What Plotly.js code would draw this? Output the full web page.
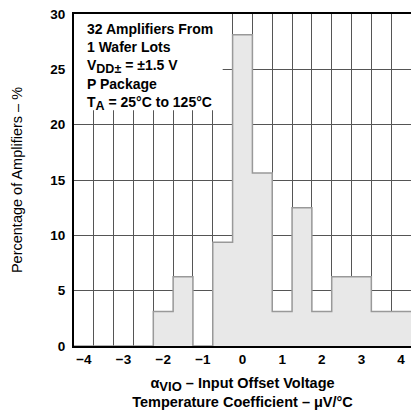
<!DOCTYPE html>
<html><head><meta charset="utf-8">
<script src="https://cdn.plot.ly/plotly-3.0.1.min.js"></script>
<style>html,body{margin:0;padding:0;background:#fff}#chart{width:411px;height:412px}</style>
</head><body><div id="chart"></div>
<script>
// Bin centers (µV/°C) and percentage of amplifiers (32 units, 3.125% each)
const binCenters = [-4, -3.5, -3, -2.5, -2, -1.5, -1, -0.5, 0, 0.5, 1, 1.5, 2, 2.5, 3, 3.5, 4];
const percentages = [0, 0, 0, 0, 3.125, 6.25, 0, 9.375, 28.125, 15.625, 3.125, 12.5, 3.125, 6.25, 6.25, 3.125, 3.125];
const binWidth = 0.5;
const xTickVals = [-4, -3, -2, -1, 0, 1, 2, 3, 4];
const xTickText = ['\u22124', '\u22123', '\u22122', '\u22121', '0', '1', '2', '3', '4'];
const yTickVals = [0, 5, 10, 15, 20, 25, 30];
const noteLines = ['32 Amplifiers From', '1 Wafer Lots',
  'V<sub><span style="font-size:12.5px">DD\u00b1</span></sub> = \u00b11.5 V', 'P Package',
  'T<sub><span style="font-size:12.5px">A</span></sub> = 25\u00b0C to 125\u00b0C'];

// step outline built from bins
const sx = binCenters.map(c => c - binWidth / 2);
const sy = percentages.slice();
sx.push(binCenters[binCenters.length - 1] + binWidth / 2);
sy.push(percentages[percentages.length - 1]);

const font = {family: 'Liberation Sans, Arial, sans-serif', color: '#000'};

const trace = {
  type: 'scatter', mode: 'lines', x: sx, y: sy,
  line: {shape: 'hv', color: '#999', width: 1.5},
  fill: 'tozeroy', fillcolor: '#e8e8e8', hoverinfo: 'skip'
};

const layout = {
  width: 411, height: 412,
  margin: {l: 74, r: 0, t: 14, b: 66},
  paper_bgcolor: '#fff', plot_bgcolor: '#fff',
  showlegend: false,
  font: font,
  xaxis: {
    range: [-4.25, 4.25], tickvals: xTickVals, ticktext: xTickText,
    showgrid: false, zeroline: false, ticks: '',
    showline: true, linecolor: '#000', linewidth: 2, mirror: true,
    tickfont: {family: font.family, size: 13.5, weight: 'bold', color: '#000'},
    minor: {tick0: -3.75, dtick: 0.5, showgrid: true, gridcolor: '#555', gridwidth: 1, ticks: ''},
    title: {text: '\u03b1<sub><span style="font-size:13px">VIO</span></sub> \u2013 Input Offset Voltage<br>Temperature Coefficient \u2013 \u03bcV/\u00b0C',
            font: {family: font.family, size: 14.5, weight: 'bold', color: '#000'}, standoff: 12}
  },
  yaxis: {
    range: [0, 30], tickvals: yTickVals,
    showgrid: true, gridcolor: '#555', gridwidth: 1, zeroline: false, ticks: '',
    showline: true, linecolor: '#000', linewidth: 2, mirror: true, ticklabelstandoff: 4,
    tickfont: {family: font.family, size: 13.5, weight: 'bold', color: '#000'},
    title: {text: 'Percentage of Amplifiers \u2013 %', font: {family: font.family, size: 14.5, color: '#000'}, standoff: 24}
  },
  shapes: [{type: 'rect', xref: 'x', yref: 'y', x0: -4.25, x1: -0.5, y0: 21.3, y1: 30,
            fillcolor: '#fff', line: {width: 0}, layer: 'between'}],
  annotations: [{
    xref: 'paper', yref: 'paper', x: 0.032, y: 0.985, xanchor: 'left', yanchor: 'top',
    align: 'left', showarrow: false,
    text: noteLines.join('<br>'),
    font: {family: font.family, size: 14, weight: 'bold', color: '#000'}
  }]
};

Plotly.newPlot('chart', [trace], layout, {displayModeBar: false, staticPlot: true});
</script></body></html>
